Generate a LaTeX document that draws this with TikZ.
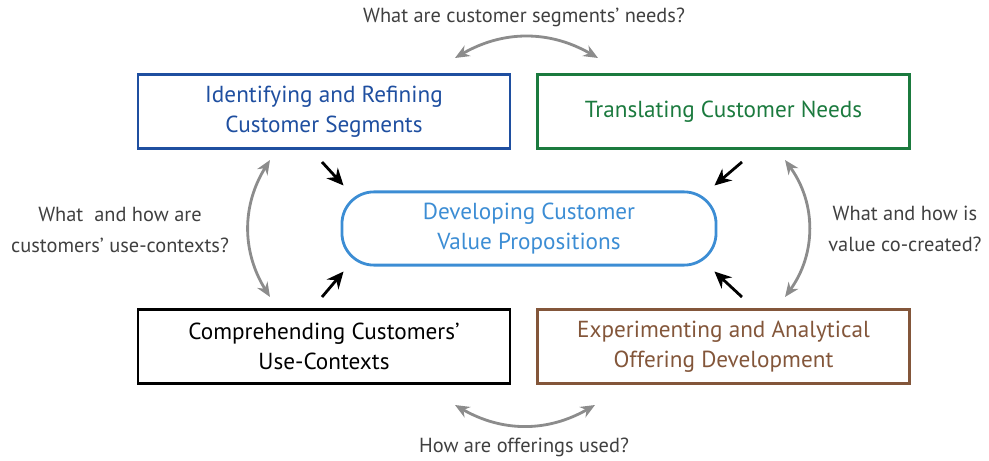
\documentclass[tikz,border=0pt]{standalone}
\usepackage{fontspec}
\setmainfont{PT Sans}
\usepackage{tikz}
\usetikzlibrary{arrows.meta,positioning,calc}
\usepackage{xcolor}
\definecolor{segblue}{HTML}{1F4FA0}
\definecolor{needgreen}{HTML}{1B7A3E}
\definecolor{propblue}{HTML}{3C8DD4}
\definecolor{offbrown}{HTML}{83563A}
\definecolor{askgray}{HTML}{404040}
\tikzset{
  taskbox/.style    ={draw,line width=2pt,align=center,font=\fontsize{16.5}{21.5}\selectfont,
                       minimum width=9.3cm,minimum height=1.83cm,inner sep=0pt},
  corebox/.style    ={draw=propblue,line width=2pt,rounded corners=0.8cm,align=center,
                       font=\fontsize{16.5}{21.5}\selectfont,text=propblue,
                       minimum width=9.35cm,minimum height=1.83cm,inner sep=0pt},
  asktext/.style    ={align=center,text=askgray,font=\fontsize{14.5}{21.5}\selectfont},
  link/.style       ={{Stealth[length=3.6mm,width=3mm]}-{Stealth[length=3.6mm,width=3mm]},
                       line width=2pt,gray!90},
  push/.style       ={-{Stealth[length=4.2mm,width=3.8mm]},line width=2pt,black},
}
\begin{document}
\begin{tikzpicture}[x=0.025cm,y=-0.025cm]
\useasboundingbox (0,0) rectangle (989,461);
% Four activity boxes
\node[taskbox,draw=segblue,text=segblue]     (IR) at (324,111.5) {Identifying and Refining\\Customer Segments};
\node[taskbox,draw=needgreen,text=needgreen] (TN) at (723.5,111.5) {Translating Customer Needs};
\node[taskbox,draw=black,text=black]         (CU) at (324,346.5) {Comprehending Customers'\\Use-Contexts};
\node[taskbox,draw=offbrown,text=offbrown]   (EX) at (723.5,346.5) {Experimenting and Analytical\\Offering Development};
% Centre
\node[corebox] (DV) at (529,228.5) {Developing Customer\\Value Propositions};
% Questions between the boxes
\node[asktext] (Qtop) at (524,17)  {What are customer segments' needs?};
\node[asktext] (Qlft) at (120,230) {What \ and how are\\customers' use-contexts?};
\node[asktext] (Qrgt) at (905,229) {What and how is\\value co-created?};
\node[asktext] (Qbot) at (524,447) {How are offerings used?};
% Arc end points
\coordinate (t1) at (455,58);  \coordinate (t2) at (598,58);
\coordinate (l1) at (270,160); \coordinate (l2) at (270,297);
\coordinate (r1) at (785,160); \coordinate (r2) at (785,297);
\coordinate (b1) at (455,405); \coordinate (b2) at (595,405);
\draw[link] (t1) to[bend left=30]  (t2);
\draw[link] (l1) to[bend right=32] (l2);
\draw[link] (r1) to[bend left=36]  (r2);
\draw[link] (b1) to[bend right=30] (b2);
% Arrows into the centre
\coordinate (p1) at (322,162); \coordinate (p2) at (742,162);
\coordinate (p3) at (322,297); \coordinate (p4) at (742,297);
\draw[push] (p1) -- ([shift={(3,-5)}]DV.north west);
\draw[push] (p2) -- ([shift={(-3,-5)}]DV.north east);
\draw[push] (p3) -- ([shift={(3,5)}]DV.south west);
\draw[push] (p4) -- ([shift={(-3,5)}]DV.south east);
\end{tikzpicture}
\end{document}
